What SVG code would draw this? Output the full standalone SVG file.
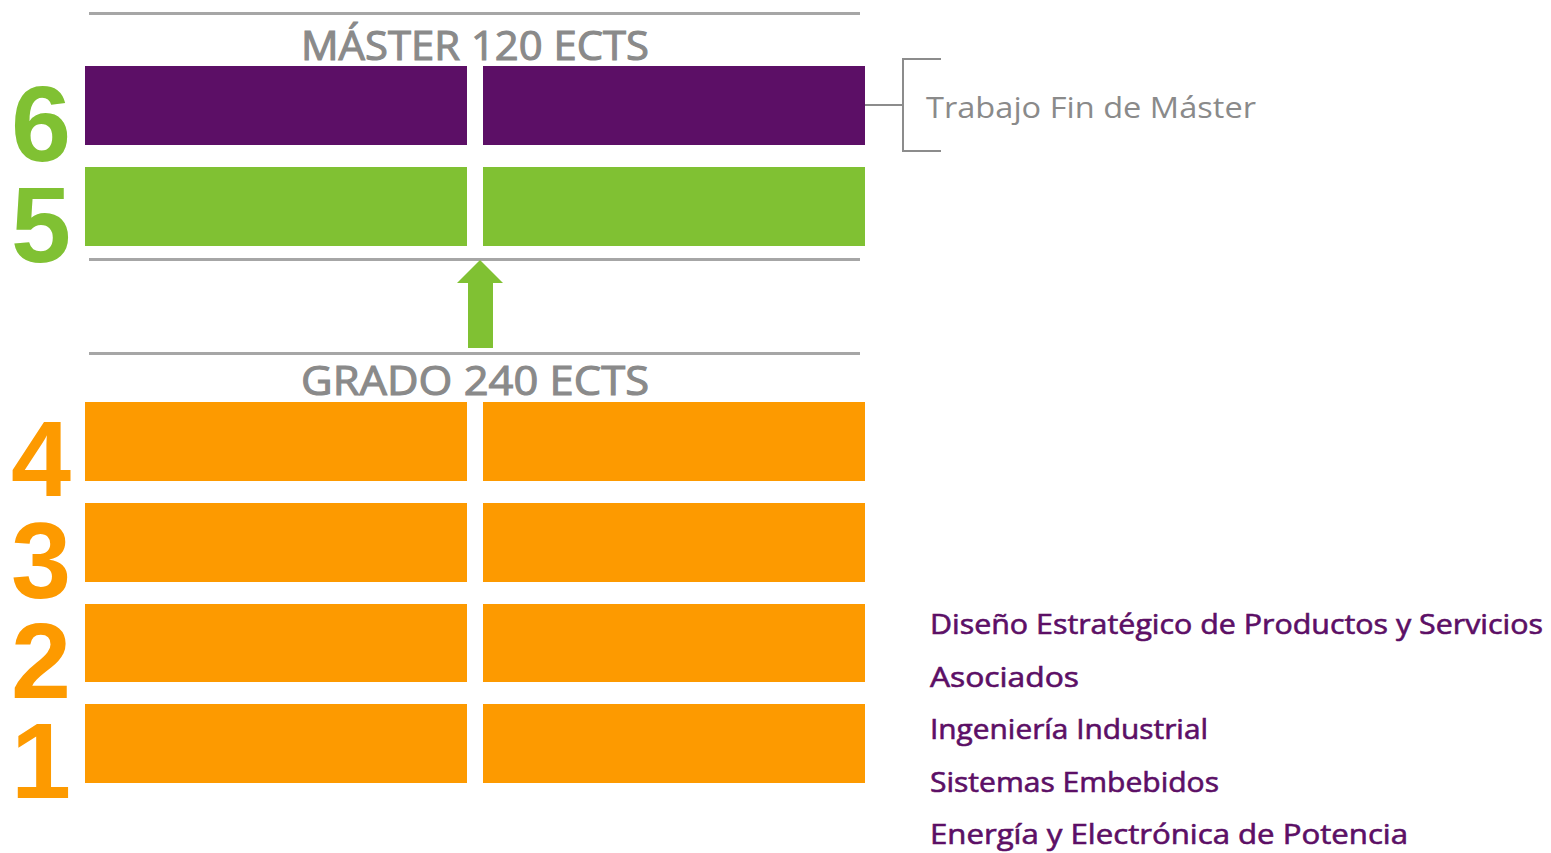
<svg xmlns="http://www.w3.org/2000/svg" width="1551" height="853" viewBox="0 0 1551 853">
<style>
.sep{stroke:#a6a6a6;stroke-width:3;fill:none}
.brk{stroke:#8c8c8c;stroke-width:2;fill:none}
.hdr{font-family:"Open Sans","Liberation Sans",sans-serif;font-weight:normal;font-size:41px;fill:#8a8a8a;stroke:#8a8a8a;stroke-width:1.1;text-anchor:middle}
.num{font-family:"Liberation Sans",Arial,sans-serif;font-weight:bold;font-size:108px;text-anchor:middle}
.purple{fill:#5c0f66}
.green{fill:#80c133}
.orange{fill:#fd9a00}
.item{font-family:"Open Sans","Liberation Sans",sans-serif;font-size:27px;fill:#5c0f66;stroke:#5c0f66;stroke-width:0.6}
.tfm{font-family:"Open Sans","Liberation Sans",sans-serif;font-size:29px;fill:#8a8a8a}
</style>
<g id="separators">
<line class="sep" x1="89" y1="13.5" x2="860" y2="13.5"/>
<line class="sep" x1="89" y1="259.5" x2="860" y2="259.5"/>
<line class="sep" x1="89" y1="353.5" x2="860" y2="353.5"/>
</g>
<g id="master-title"><text class="hdr" x="475" y="60" textLength="348" lengthAdjust="spacingAndGlyphs">MÁSTER 120 ECTS</text></g>
<g id="grado-title"><text class="hdr" x="475" y="395" textLength="348" lengthAdjust="spacingAndGlyphs">GRADO 240 ECTS</text></g>
<g id="year6">
<text class="num green" x="41" y="161">6</text>
<rect class="purple" x="85" y="66" width="382" height="79"/>
<rect class="purple" x="483" y="66" width="382" height="79"/>
</g>
<g id="year5">
<text class="num green" x="41" y="262">5</text>
<rect class="green" x="85" y="167" width="382" height="79"/>
<rect class="green" x="483" y="167" width="382" height="79"/>
</g>
<g id="year4">
<text class="num orange" x="41" y="496">4</text>
<rect class="orange" x="85" y="402" width="382" height="79"/>
<rect class="orange" x="483" y="402" width="382" height="79"/>
</g>
<g id="year3">
<text class="num orange" x="41" y="598">3</text>
<rect class="orange" x="85" y="503" width="382" height="79"/>
<rect class="orange" x="483" y="503" width="382" height="79"/>
</g>
<g id="year2">
<text class="num orange" x="41" y="698">2</text>
<rect class="orange" x="85" y="604" width="382" height="78"/>
<rect class="orange" x="483" y="604" width="382" height="78"/>
</g>
<g id="year1">
<text class="num orange" x="41" y="798">1</text>
<rect class="orange" x="85" y="704" width="382" height="79"/>
<rect class="orange" x="483" y="704" width="382" height="79"/>
</g>
<g id="connectors">
<polygon class="green" points="480,260 503,283 493,283 493,348 468,348 468,283 457,283"/>
<path class="brk" d="M865,105 H903 M941,59 H903 V151 H941"/>
</g>
<g id="tfm-label"><text class="tfm" x="926" y="118" textLength="330" lengthAdjust="spacingAndGlyphs">Trabajo Fin de Máster</text></g>
<g id="programs">
<text class="item" x="930" y="634" textLength="613" lengthAdjust="spacingAndGlyphs">Diseño Estratégico de Productos y Servicios</text>
<text class="item" x="930" y="687" textLength="149" lengthAdjust="spacingAndGlyphs">Asociados</text>
<text class="item" x="930" y="739" textLength="278" lengthAdjust="spacingAndGlyphs">Ingeniería Industrial</text>
<text class="item" x="930" y="792" textLength="289" lengthAdjust="spacingAndGlyphs">Sistemas Embebidos</text>
<text class="item" x="930" y="844" textLength="478" lengthAdjust="spacingAndGlyphs">Energía y Electrónica de Potencia</text>
</g>
</svg>
